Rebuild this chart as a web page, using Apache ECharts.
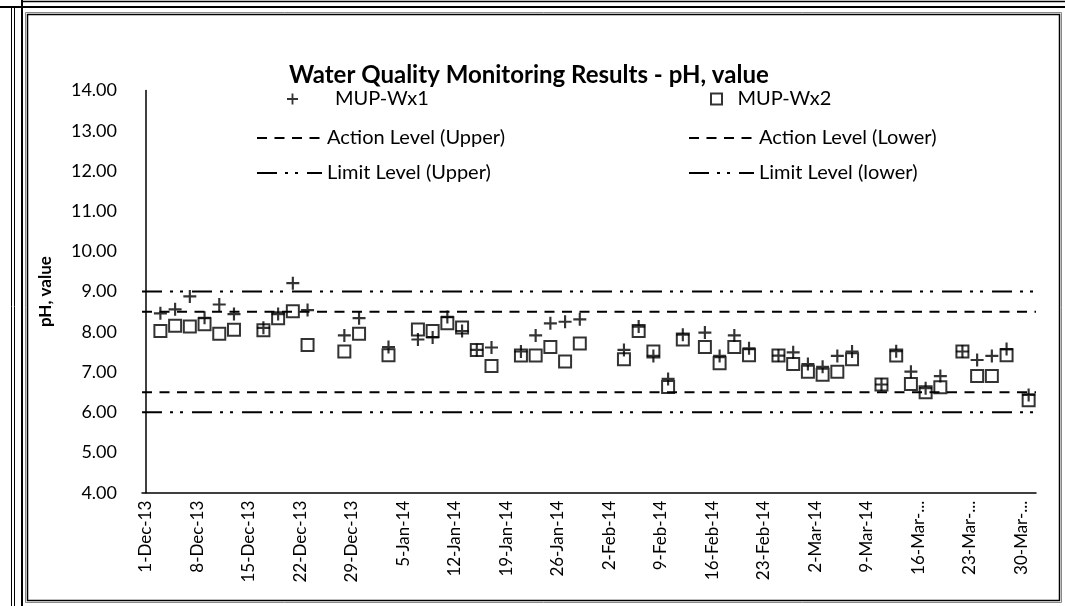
<!DOCTYPE html>
<html><head><meta charset="utf-8">
<script src="https://cdn.jsdelivr.net/npm/echarts@6/dist/echarts.min.js"></script>
<style>html,body{margin:0;padding:0;background:#fff;}#c{width:1065px;height:606px;}</style>
</head><body><div id="c"></div>
<script>
// ---- data ----
const sampleDates = ['2013-12-03','2013-12-05','2013-12-07','2013-12-09','2013-12-11','2013-12-13','2013-12-17','2013-12-19','2013-12-21','2013-12-23','2013-12-28','2013-12-30',
  '2014-01-03','2014-01-07','2014-01-09','2014-01-11','2014-01-13','2014-01-15','2014-01-17','2014-01-21','2014-01-23','2014-01-25','2014-01-27','2014-01-29',
  '2014-02-04','2014-02-06','2014-02-08','2014-02-10','2014-02-12','2014-02-15','2014-02-17','2014-02-19','2014-02-21','2014-02-25','2014-02-27',
  '2014-03-01','2014-03-03','2014-03-05','2014-03-07','2014-03-11','2014-03-13','2014-03-15','2014-03-17','2014-03-19','2014-03-22','2014-03-24','2014-03-26','2014-03-28','2014-03-31'];
const wx1 = [8.46,8.56,8.88,8.35,8.68,8.44,8.10,8.44,9.21,8.54,7.91,8.34,
  7.62,7.81,7.86,8.37,8.02,7.55,7.61,7.51,7.91,8.21,8.25,8.31,
  7.55,8.13,7.40,6.83,7.93,7.98,7.40,7.91,7.59,7.41,7.49,
  7.20,7.13,7.40,7.51,6.69,7.52,7.01,6.60,6.90,7.51,7.30,7.40,7.57,6.43];
const wx2 = [8.02,8.15,8.13,8.19,7.95,8.05,8.04,8.34,8.51,7.67,7.51,7.95,
  7.42,8.06,8.02,8.21,8.11,7.55,7.15,7.41,7.41,7.62,7.26,7.71,
  7.32,8.02,7.51,6.63,7.81,7.62,7.22,7.62,7.42,7.41,7.20,
  7.01,6.93,7.01,7.32,6.69,7.41,6.70,6.50,6.62,7.51,6.90,6.90,7.42,6.30];
const actionUpper = 8.5, actionLower = 6.5, limitUpper = 9.0, limitLower = 6.0;
const tickDates = ['2013-12-01','2013-12-08','2013-12-15','2013-12-22','2013-12-29','2014-01-05','2014-01-12','2014-01-19','2014-01-26',
  '2014-02-02','2014-02-09','2014-02-16','2014-02-23','2014-03-02','2014-03-09','2014-03-16','2014-03-23','2014-03-30'];
const tickLabels = ['1-Dec-13','8-Dec-13','15-Dec-13','22-Dec-13','29-Dec-13','5-Jan-14','12-Jan-14','19-Jan-14','26-Jan-14',
  '2-Feb-14','9-Feb-14','16-Feb-14','23-Feb-14','2-Mar-14','9-Mar-14','16-Mar-...','23-Mar-...','30-Mar-...'];
const axisStartDate = '2013-12-01';
const axisEndDate = '2014-04-01';

// ---- helpers ----
const DAY = 86400000;
const dayOf = d => (Date.parse(d) - Date.parse(axisStartDate)) / DAY;
const xMin = -0.5, xMax = dayOf(axisEndDate);
const tickPos = tickDates.map(dayOf);
const labelFor = {};
tickPos.forEach((p, i) => { labelFor[p] = tickLabels[i]; });

const FONT = 'Lato';
const crossPath = 'path://M5,0H7V5H12V7H7V12H5V7H0V5H5Z';
const squarePath = 'path://M0,0H12V12H0Z';
const dashed = [10, 7.5];
const dashDotDot = [20, 8, 3, 7, 3, 9];
const hline = v => [[xMin, v], [xMax, v]];
const legendText = {fontFamily: FONT, fontSize: 20, color: '#000', lineHeight: 20};
const noSym = {color: 'rgba(0,0,0,0)', borderWidth: 0};

const chart = echarts.init(document.getElementById('c'), null, {renderer: 'canvas'});
chart.setOption({
  animation: false,
  backgroundColor: '#fff',
  title: {
    text: 'Water Quality Monitoring Results - pH, value',
    left: 289, top: 63, padding: 0,
    textStyle: {fontFamily: FONT, fontWeight: 'bold', fontSize: 24, color: '#000'}
  },
  legend: [
    {left: 282, top: 84, itemWidth: 75, itemHeight: 11, selectedMode: false,
     data: ['MUP-Wx1'], textStyle: legendText},
    {left: 705, top: 84, itemWidth: 32, itemHeight: 11, selectedMode: false,
     data: ['MUP-Wx2'], textStyle: legendText},
    {orient: 'vertical', left: 251, top: 123, itemWidth: 65, itemHeight: 11, itemGap: 15, selectedMode: false,
     data: ['Action Level (Upper)', 'Limit Level (Upper)'], textStyle: legendText},
    {orient: 'vertical', left: 683, top: 123, itemWidth: 65, itemHeight: 11, itemGap: 15, selectedMode: false,
     data: ['Action Level (Lower)', 'Limit Level (lower)'], textStyle: legendText}
  ],
  grid: {left: 142, right: 29, top: 90.5, bottom: 113.3, containLabel: false},
  xAxis: {
    type: 'value', min: xMin, max: xMax,
    axisLine: {show: true, onZero: false, lineStyle: {color: '#000', width: 1.5}},
    axisTick: {show: false}, splitLine: {show: false},
    axisLabel: {customValues: tickPos, rotate: 90, margin: 8, color: '#000', fontFamily: FONT, fontSize: 17,
      formatter: v => labelFor[v] !== undefined ? labelFor[v] : ''}
  },
  yAxis: {
    type: 'value', min: 4, max: 14, interval: 1,
    name: 'pH, value', nameLocation: 'middle', nameGap: 88, nameRotate: 90,
    nameTextStyle: {fontFamily: FONT, fontWeight: 'bold', fontSize: 17, color: '#000'},
    axisLine: {show: true, lineStyle: {color: '#000', width: 1.5}},
    axisTick: {show: false}, splitLine: {show: false},
    axisLabel: {margin: 25, color: '#000', fontFamily: FONT, fontSize: 18, formatter: v => v.toFixed(2)}
  },
  series: [
    {name: 'Limit Level (Upper)', type: 'line', data: hline(limitUpper), symbol: 'none', silent: true, z: 1,
     lineStyle: {color: '#000', width: 2, type: dashDotDot}, itemStyle: noSym},
    {name: 'Action Level (Upper)', type: 'line', data: hline(actionUpper), symbol: 'none', silent: true, z: 1,
     lineStyle: {color: '#000', width: 2, type: dashed}, itemStyle: noSym},
    {name: 'Action Level (Lower)', type: 'line', data: hline(actionLower), symbol: 'none', silent: true, z: 1,
     lineStyle: {color: '#000', width: 2, type: dashed}, itemStyle: noSym},
    {name: 'Limit Level (lower)', type: 'line', data: hline(limitLower), symbol: 'none', silent: true, z: 1,
     lineStyle: {color: '#000', width: 2, type: dashDotDot}, itemStyle: noSym},
    {name: 'MUP-Wx2', type: 'scatter', z: 3, symbol: squarePath, symbolSize: 12,
     data: sampleDates.map((d, i) => [dayOf(d), wx2[i]]),
     itemStyle: {color: 'rgba(255,255,255,0)', borderColor: '#000', borderWidth: 2}},
    {name: 'MUP-Wx1', type: 'scatter', z: 4, symbol: crossPath, symbolSize: 13,
     data: sampleDates.map((d, i) => [dayOf(d), wx1[i]]),
     itemStyle: {color: '#000'}}
  ],
  graphic: [
    {type: 'line', silent: true, shape: {x1: 0, y1: 7, x2: 1065, y2: 7}, style: {stroke: '#000', lineWidth: 2}},
    {type: 'line', silent: true, shape: {x1: 22, y1: 1.5, x2: 1065, y2: 1.5}, style: {stroke: '#000', lineWidth: 1.5}},
    {type: 'line', silent: true, shape: {x1: 11.5, y1: 7, x2: 11.5, y2: 606}, style: {stroke: '#000', lineWidth: 1}},
    {type: 'line', silent: true, shape: {x1: 14.5, y1: 7, x2: 14.5, y2: 606}, style: {stroke: '#000', lineWidth: 1}},
    {type: 'line', silent: true, shape: {x1: 22, y1: 0, x2: 22, y2: 606}, style: {stroke: '#000', lineWidth: 2}},
    {type: 'rect', silent: true, shape: {x: 25.5, y: 12.5, width: 1036, height: 590}, style: {fill: 'none', stroke: '#888', lineWidth: 1}},
    {type: 'rect', silent: true, shape: {x: 27.5, y: 14.5, width: 1032, height: 586}, style: {fill: 'none', stroke: '#000', lineWidth: 1.5}}
  ]
});
</script></body></html>
